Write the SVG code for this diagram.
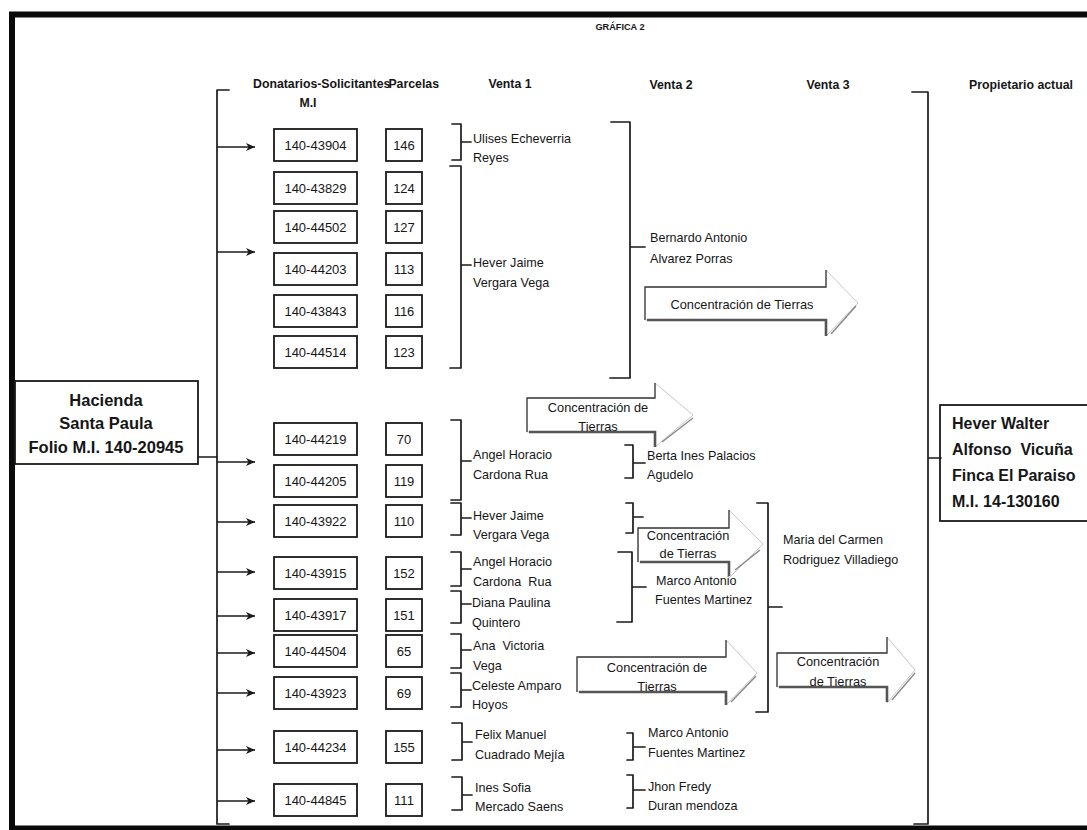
<svg xmlns="http://www.w3.org/2000/svg" width="1087" height="830" viewBox="0 0 1087 830">
<style>
text{font-family:"Liberation Sans",Arial,sans-serif;fill:#161616;dominant-baseline:central}
.h{font-weight:bold;font-size:12.3px}
.t{font-weight:bold;font-size:9.2px}
.n{font-size:12.6px}
.bx{font-size:13px}
.big{font-weight:bold;font-size:16.5px}
.own{font-weight:bold;font-size:16px}
.c{font-size:12.8px}
.box{fill:#fff;stroke:#1a1a1a;stroke-width:1.8}
.br{fill:none;stroke:#1a1a1a;stroke-width:1.7;stroke-linejoin:round;stroke-linecap:round}
.ar{fill:none;stroke:#1a1a1a;stroke-width:1.6}
.cf{fill:#fff;stroke:#c8c8c8;stroke-width:1}
.ce{fill:none;stroke:#3a3a3a;stroke-width:1.3}
.cs{fill:none;stroke:#555;stroke-width:2.6}
.cd{fill:none;stroke:#888;stroke-width:1.4}
</style>
<defs>
<marker id="ah" markerUnits="userSpaceOnUse" markerWidth="10" markerHeight="10" refX="9" refY="5" orient="auto">
<path d="M0,1 L9,5 L0,9 L2.5,5 z" fill="#1a1a1a"/>
</marker>
</defs>
<rect x="0" y="0" width="1087" height="830" fill="#fff"/>
<!-- frame -->
<path d="M12,830 V14.5 H1087" fill="none" stroke="#0a0a0a" stroke-width="6"/>
<path d="M12,828 H1087" fill="none" stroke="#0a0a0a" stroke-width="5"/>

<g id="headers">
<text class="t" x="620" y="27" text-anchor="middle">GRÁFICA 2</text>
<text class="h" x="253" y="84">Donatarios-Solicitantes</text>
<text class="h" x="439" y="84" text-anchor="end">Parcelas</text>
<text class="h" x="308" y="103" text-anchor="middle">M.I</text>
<text class="h" x="510" y="84" text-anchor="middle">Venta 1</text>
<text class="h" x="671" y="85" text-anchor="middle">Venta 2</text>
<text class="h" x="828" y="85" text-anchor="middle">Venta 3</text>
<text class="h" x="1021" y="85" text-anchor="middle">Propietario actual</text>
</g>

<g id="hacienda">
<rect class="box" x="15" y="381" width="183" height="83"/>
<text class="big" x="106" y="400" text-anchor="middle">Hacienda</text>
<text class="big" x="106" y="423" text-anchor="middle">Santa Paula</text>
<text class="big" x="106" y="447" text-anchor="middle">Folio M.I. 140-20945</text>
</g>

<g id="propietario">
<rect class="box" x="940" y="405" width="160" height="116"/>
<text class="own" x="952" y="423">Hever Walter</text>
<text class="own" x="952" y="449" xml:space="preserve">Alfonso  Vicuña</text>
<text class="own" x="952" y="475">Finca El Paraiso</text>
<text class="own" x="952" y="501">M.I. 14-130160</text>
</g>

<g id="mi-boxes">
<g id="r1"><rect class="box" x="274" y="129" width="83" height="32"/><text class="bx" x="315.5" y="145" text-anchor="middle">140-43904</text><rect class="box" x="386" y="129" width="36" height="32"/><text class="bx" x="404" y="145" text-anchor="middle">146</text></g>
<g id="r2"><rect class="box" x="274" y="172" width="83" height="32"/><text class="bx" x="315.5" y="188" text-anchor="middle">140-43829</text><rect class="box" x="386" y="172" width="36" height="32"/><text class="bx" x="404" y="188" text-anchor="middle">124</text></g>
<g id="r3"><rect class="box" x="274" y="211" width="83" height="32"/><text class="bx" x="315.5" y="227" text-anchor="middle">140-44502</text><rect class="box" x="386" y="211" width="36" height="32"/><text class="bx" x="404" y="227" text-anchor="middle">127</text></g>
<g id="r4"><rect class="box" x="274" y="253" width="83" height="32"/><text class="bx" x="315.5" y="269" text-anchor="middle">140-44203</text><rect class="box" x="386" y="253" width="36" height="32"/><text class="bx" x="404" y="269" text-anchor="middle">113</text></g>
<g id="r5"><rect class="box" x="274" y="295" width="83" height="32"/><text class="bx" x="315.5" y="311" text-anchor="middle">140-43843</text><rect class="box" x="386" y="295" width="36" height="32"/><text class="bx" x="404" y="311" text-anchor="middle">116</text></g>
<g id="r6"><rect class="box" x="274" y="336" width="83" height="32"/><text class="bx" x="315.5" y="352" text-anchor="middle">140-44514</text><rect class="box" x="386" y="336" width="36" height="32"/><text class="bx" x="404" y="352" text-anchor="middle">123</text></g>
<g id="r7"><rect class="box" x="274" y="423" width="83" height="32"/><text class="bx" x="315.5" y="439" text-anchor="middle">140-44219</text><rect class="box" x="386" y="423" width="36" height="32"/><text class="bx" x="404" y="439" text-anchor="middle">70</text></g>
<g id="r8"><rect class="box" x="274" y="465" width="83" height="32"/><text class="bx" x="315.5" y="481" text-anchor="middle">140-44205</text><rect class="box" x="386" y="465" width="36" height="32"/><text class="bx" x="404" y="481" text-anchor="middle">119</text></g>
<g id="r9"><rect class="box" x="274" y="505" width="83" height="32"/><text class="bx" x="315.5" y="521" text-anchor="middle">140-43922</text><rect class="box" x="386" y="505" width="36" height="32"/><text class="bx" x="404" y="521" text-anchor="middle">110</text></g>
<g id="r10"><rect class="box" x="274" y="557" width="83" height="32"/><text class="bx" x="315.5" y="573" text-anchor="middle">140-43915</text><rect class="box" x="386" y="557" width="36" height="32"/><text class="bx" x="404" y="573" text-anchor="middle">152</text></g>
<g id="r11"><rect class="box" x="274" y="599" width="83" height="32"/><text class="bx" x="315.5" y="615" text-anchor="middle">140-43917</text><rect class="box" x="386" y="599" width="36" height="32"/><text class="bx" x="404" y="615" text-anchor="middle">151</text></g>
<g id="r12"><rect class="box" x="274" y="635" width="83" height="32"/><text class="bx" x="315.5" y="651" text-anchor="middle">140-44504</text><rect class="box" x="386" y="635" width="36" height="32"/><text class="bx" x="404" y="651" text-anchor="middle">65</text></g>
<g id="r13"><rect class="box" x="274" y="677" width="83" height="32"/><text class="bx" x="315.5" y="693" text-anchor="middle">140-43923</text><rect class="box" x="386" y="677" width="36" height="32"/><text class="bx" x="404" y="693" text-anchor="middle">69</text></g>
<g id="r14"><rect class="box" x="274" y="731" width="83" height="32"/><text class="bx" x="315.5" y="747" text-anchor="middle">140-44234</text><rect class="box" x="386" y="731" width="36" height="32"/><text class="bx" x="404" y="747" text-anchor="middle">155</text></g>
<g id="r15"><rect class="box" x="274" y="784" width="83" height="32"/><text class="bx" x="315.5" y="800" text-anchor="middle">140-44845</text><rect class="box" x="386" y="784" width="36" height="32"/><text class="bx" x="404" y="800" text-anchor="middle">111</text></g>
</g>

<g id="venta1">
<text class="n" x="473" y="139">Ulises Echeverria</text><text class="n" x="473" y="158">Reyes</text>
<text class="n" x="473" y="263">Hever Jaime</text><text class="n" x="473" y="283">Vergara Vega</text>
<text class="n" x="473" y="455">Angel Horacio</text><text class="n" x="473" y="475">Cardona Rua</text>
<text class="n" x="473" y="516">Hever Jaime</text><text class="n" x="473" y="535">Vergara Vega</text>
<text class="n" x="473" y="562">Angel Horacio</text><text class="n" x="473" y="582" xml:space="preserve">Cardona  Rua</text>
<text class="n" x="472" y="603">Diana Paulina</text><text class="n" x="472" y="623">Quintero</text>
<text class="n" x="473" y="646" xml:space="preserve">Ana  Victoria</text><text class="n" x="473" y="666">Vega</text>
<text class="n" x="472" y="686">Celeste Amparo</text><text class="n" x="472" y="705">Hoyos</text>
<text class="n" x="475" y="735">Felix Manuel</text><text class="n" x="475" y="755">Cuadrado Mejía</text>
<text class="n" x="475" y="788">Ines Sofia</text><text class="n" x="475" y="807">Mercado Saens</text>
</g>

<g id="venta2">
<text class="n" x="650" y="238">Bernardo Antonio</text><text class="n" x="650" y="259">Alvarez Porras</text>
<text class="n" x="647" y="456">Berta Ines Palacios</text><text class="n" x="647" y="475">Agudelo</text>
<text class="n" x="656" y="581">Marco Antonio</text><text class="n" x="655" y="600">Fuentes Martinez</text>
<text class="n" x="648" y="733">Marco Antonio</text><text class="n" x="648" y="753">Fuentes Martinez</text>
<text class="n" x="648" y="787">Jhon Fredy</text><text class="n" x="648" y="806">Duran mendoza</text>
</g>

<g id="venta3">
<text class="n" x="783" y="540">Maria del Carmen</text><text class="n" x="783" y="560">Rodriguez Villadiego</text>
</g>

<g id="concentracion">
<g id="c1">
<polygon class="cf" points="645,287 826,287 826,270 858,303 826,336 826,320 645,320"/>
<path class="ce" d="M645,320 V287 H826 V270"/>
<path class="cs" d="M647,320 H826 V336"/>
<path class="cd" d="M831,334 L856,306"/>
<text class="c" x="742" y="304" text-anchor="middle">Concentración de Tierras</text>
</g>
<g id="c2">
<polygon class="cf" points="527,398 655,398 655,383 693,415 655,447 655,432 527,432"/>
<path class="ce" d="M527,432 V398 H655 V383"/>
<path class="cs" d="M529,432 H655 V447"/>
<path class="cd" d="M662,442 L693,418"/>
<text class="c" x="598" y="407" text-anchor="middle">Concentración de</text>
<text class="c" x="598" y="426" text-anchor="middle">Tierras</text>
</g>
<g id="c3">
<polygon class="cf" points="638,528 729,528 729,510 763,544 729,578 729,562 638,562"/>
<path class="ce" d="M638,562 V528 H729 V510"/>
<path class="cs" d="M640,562 H729 V576"/>
<path class="cd" d="M735,570 L760,550"/>
<text class="c" x="688" y="535" text-anchor="middle">Concentración</text>
<text class="c" x="688" y="553" text-anchor="middle">de Tierras</text>
</g>
<g id="c4">
<polygon class="cf" points="577,657 726,657 726,640 757,673 726,705 726,692 577,692"/>
<path class="ce" d="M577,692 V657 H726 V640"/>
<path class="cs" d="M579,692 H726 V705"/>
<path class="cd" d="M731,702 L756,676"/>
<text class="c" x="657" y="667" text-anchor="middle">Concentración de</text>
<text class="c" x="657" y="686" text-anchor="middle">Tierras</text>
</g>
<g id="c5">
<polygon class="cf" points="777,653 887,653 887,637 915,670 887,703 887,687 777,687"/>
<path class="ce" d="M777,687 V653 H887 V637"/>
<path class="cs" d="M779,687 H887 V702"/>
<path class="cd" d="M892,700 L915,673"/>
<text class="c" x="838" y="661" text-anchor="middle">Concentración</text>
<text class="c" x="838" y="681" text-anchor="middle">de Tierras</text>
</g>
</g>

<g id="connectors">
<path class="br" d="M229,90 H217 V824 H229"/>
<path class="br" d="M198,457 H217"/>
<g marker-end="url(#ah)">
<path class="ar" d="M217,147 H255"/>
<path class="ar" d="M217,252 H255"/>
<path class="ar" d="M217,462 H255"/>
<path class="ar" d="M217,522 H255"/>
<path class="ar" d="M217,572 H255"/>
<path class="ar" d="M217,616 H255"/>
<path class="ar" d="M217,653 H255"/>
<path class="ar" d="M217,693 H255"/>
<path class="ar" d="M217,750 H255"/>
<path class="ar" d="M217,801 H255"/>
</g>
<path class="br" d="M452,124 H461 V160 H452 M461,142 H471"/>
<path class="br" d="M450,166 H461 V368 H450 M461,265 H471"/>
<path class="br" d="M451,420 H461 V500 H451 M461,461 H471"/>
<path class="br" d="M451,503 H461 V535 H451 M461,518 H471"/>
<path class="br" d="M451,552 H461 V586 H451 M461,569 H471"/>
<path class="br" d="M451,591 H461 V623 H451 M461,604 H471"/>
<path class="br" d="M451,634 H461 V668 H451 M461,650 H471"/>
<path class="br" d="M451,673 H461 V707 H451 M461,690 H471"/>
<path class="br" d="M452,723 H462 V760 H452 M462,742 H472"/>
<path class="br" d="M452,777 H462 V810 H452 M462,795 H472"/>
<path class="br" d="M611,122 H630 V378 H610 M630,247 H645"/>
<path class="br" d="M625,445 H633 V478 H625 M633,463 H645"/>
<path class="br" d="M626,503 H633 V533 H626 M633,517 H643"/>
<path class="br" d="M618,552 H632 V622 H617 M632,587 H646"/>
<path class="br" d="M627,733 H633 V760 H627 M633,747 H645"/>
<path class="br" d="M627,775 H633 V808 H627 M633,790 H645"/>
<path class="br" d="M757,503 H768 V712 H756 M768,607 H782"/>
<path class="br" d="M912,92 H928 V824 H914 M928,458 H941"/>
</g>
</svg>
